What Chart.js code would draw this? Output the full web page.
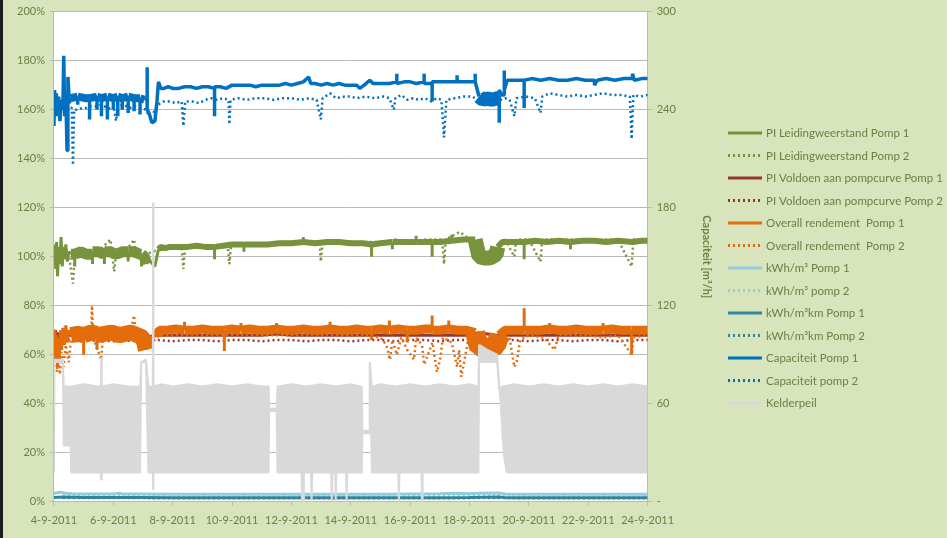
<!DOCTYPE html>
<html>
<head>
<meta charset="utf-8">
<script src="https://cdn.jsdelivr.net/npm/chart.js@4.4.1/dist/chart.umd.min.js"></script>
<style>
  html, body { margin: 0; padding: 0; background: #d8e4bc; }
  #wrap { width: 947px; height: 538px; }
</style>
</head>
<body>
<div id="wrap"><canvas id="pompChart" width="947" height="538"></canvas></div>
<script>
// x = dag in september 2011 (4 .. 24), y = waarde
const xTicks = [4, 6, 8, 10, 12, 14, 16, 18, 20, 22, 24];
const leftTicks = [0, 20, 40, 60, 80, 100, 120, 140, 160, 180, 200];   // %
const rightTicks = [0, 60, 120, 180, 240, 300];                        // m3/h

// PI Leidingweerstand (%)
const leidP1 = [[4.00,97],[4.03,105],[4.06,95],[4.09,106],[4.12,92],[4.16,104],[4.20,97],[4.24,108],[4.28,96],[4.32,104],[4.36,99],[4.40,105],[4.45,98],[4.50,102],[4.57,101],[4.70,101],[4.70,96],[4.70,101],[4.90,102],[5.10,101],[5.30,101],[5.30,97],[5.30,102],[5.50,102],[5.70,101],[5.70,97],[5.70,102],[5.90,102],[6.10,101],[6.30,102],[6.50,102],[6.50,98],[6.50,102],[6.70,102],[6.90,101],[6.95,101],[6.95,96],[6.95,101],[7.05,100],[7.12,97],[7.18,99],[7.40,96],[7.45,99],[7.52,103],[7.60,104],[7.75,103.5],[7.90,104],[8.20,104],[8.50,104],[8.80,104.5],[9.10,104],[9.41,104],[9.41,99],[9.41,104],[9.70,104.5],[10.00,105],[10.40,105],[10.40,102],[10.40,105],[10.80,105],[11.20,105],[11.60,105.5],[12.00,105.5],[12.40,106],[12.40,108],[12.40,106],[12.80,105.5],[13.20,106],[13.60,106],[14.00,105.5],[14.40,105.5],[14.70,105],[14.70,100],[14.70,105],[15.00,105.5],[15.40,106],[15.40,103],[15.40,106],[15.80,106],[16.20,106],[16.20,108.5],[16.20,106],[16.50,106],[16.74,106],[16.74,100],[16.74,106],[17.00,106],[17.40,106.5],[17.40,109],[17.40,106.5],[17.80,107],[18.19,107],[18.32,100],[18.50,99.5],[18.70,99.5],[18.90,101],[18.95,104],[19.10,106],[19.40,106],[19.84,106],[19.84,99],[19.84,106],[20.20,106.5],[20.60,106],[21.00,106.5],[21.40,106],[21.40,103],[21.40,106],[21.80,106.5],[22.20,106.5],[22.60,106],[23.00,106.5],[23.49,106],[23.80,106.5],[24.00,106.5]];

const leidP2 = [[4.30,102],[4.50,101],[4.64,89],[4.70,101],[5.00,102],[5.40,101],[5.90,107],[5.95,102],[6.03,94],[6.10,102],[6.40,102],[6.70,107],[6.75,102],[7.10,101],[7.55,103],[8.00,104],[8.30,104],[8.36,95],[8.42,104],[8.90,104],[9.40,104],[9.85,105],[9.91,97],[9.97,105],[10.50,105],[11.00,105],[11.50,106],[12.00,106],[12.50,106],[12.95,106],[12.99,98],[13.05,106],[13.50,106],[14.00,106],[14.50,106],[15.00,106],[15.50,107],[16.00,106],[16.50,107],[17.08,107],[17.14,97],[17.20,107],[17.50,109],[17.65,110],[17.80,109],[18.00,107],[18.30,102],[18.60,100],[18.90,104],[19.20,107],[19.51,100],[19.57,107],[20.00,107],[20.39,98],[20.45,107],[21.00,107],[21.50,107],[22.00,106],[22.50,107],[23.00,107],[23.46,96],[23.52,107],[24.00,107]];

// PI Voldoen aan pompcurve (%)
const voldP1 = [[4.00,68],[4.05,70],[4.10,66],[4.15,69],[4.20,67],[4.30,68],[4.60,68],[5.00,68],[5.50,68],[6.00,68],[6.50,68],[7.00,67],[7.50,68],[8.00,68],[8.50,68],[9.00,68],[9.50,68],[10.00,68],[10.50,68],[11.00,68],[11.50,68.5],[12.00,68],[12.50,68],[13.00,68],[13.50,68],[14.00,68],[14.50,68],[15.00,68],[15.50,68],[16.00,68],[16.50,68],[17.00,68],[17.50,68],[18.00,68],[18.30,69],[18.60,68.5],[18.90,68],[19.20,68],[19.50,68],[20.00,68],[20.50,68],[21.00,68],[21.50,68],[22.00,68],[22.50,68],[23.00,68],[23.50,68],[24.00,68]];

const voldP2 = [[4.30,66],[5.00,66],[6.00,65.5],[7.00,66],[7.50,66],[8.00,65.5],[8.50,66],[9.00,66],[9.50,65.5],[10.00,66],[10.50,66],[11.00,65.5],[11.50,66],[12.00,66],[12.50,65.5],[13.00,66],[13.50,66],[14.00,65.5],[14.50,66],[15.00,66],[15.50,65.5],[16.00,66],[16.50,66],[17.00,65.5],[17.50,66],[18.00,66],[18.50,65],[19.00,66],[19.50,66],[20.00,65.5],[20.50,66],[21.00,66],[21.50,65.5],[22.00,66],[22.50,66],[23.00,65.5],[23.50,66],[24.00,66]];

// Overall rendement (%)
const rendP1 = [[4.00,60],[4.03,70],[4.06,57],[4.09,68],[4.12,55],[4.15,66],[4.18,58],[4.22,70],[4.26,62],[4.30,71],[4.35,64],[4.40,72],[4.45,65],[4.50,70],[4.57,68],[4.80,68.5],[5.00,68],[5.00,60],[5.00,68],[5.25,69],[5.45,68.5],[5.45,62],[5.45,68],[5.70,68.5],[5.95,69],[6.20,68],[6.40,68.5],[6.60,69],[6.80,68],[7.00,67],[7.10,62],[7.18,66],[7.45,68],[7.55,70],[7.80,70],[8.10,70.5],[8.40,70],[8.40,73.5],[8.40,70],[8.70,70],[9.00,70.5],[9.30,70],[9.60,70],[9.74,70],[9.74,61.5],[9.74,70],[10.00,70.5],[10.30,70],[10.30,73],[10.30,70],[10.60,70.5],[10.90,70],[11.20,70],[11.50,70.5],[11.50,73],[11.50,70.5],[11.80,70],[12.10,70],[12.40,70.5],[12.70,70],[13.00,70],[13.30,70.5],[13.30,73.5],[13.30,70.5],[13.60,70],[13.90,70],[14.20,70.5],[14.50,70],[14.70,70],[14.70,66],[14.70,70],[15.00,70.5],[15.30,70],[15.30,74],[15.30,70],[15.60,70.5],[15.90,70],[15.90,65],[15.90,70],[16.20,70],[16.50,70.5],[16.74,70.5],[16.74,76],[16.74,70],[17.00,70],[17.30,70.5],[17.30,74],[17.30,70.5],[17.60,70],[17.90,70],[18.19,69],[18.32,63],[18.50,63],[18.70,62.5],[18.90,64],[19.00,68],[19.20,70],[19.50,70],[19.84,70],[19.84,79],[19.84,70],[20.10,70],[20.40,70],[20.70,70.5],[20.70,73],[20.70,70.5],[21.00,70],[21.30,70],[21.60,70.5],[21.90,70],[22.20,70],[22.50,70],[22.50,73],[22.50,70],[22.80,70.5],[23.10,70],[23.46,70],[23.46,60],[23.46,70],[23.70,70],[24.00,70]];

const rendP2 = [[4.05,62],[4.10,53],[4.14,60],[4.20,52],[4.26,61],[4.32,55],[4.40,64],[4.50,57],[4.57,66],[4.70,68],[4.90,67],[5.10,68],[5.25,66],[5.28,80],[5.32,67],[5.59,58],[5.65,67],[5.90,68],[6.10,67],[6.30,68],[6.55,68],[6.70,76],[6.76,67],[7.00,66],[7.10,62],[7.55,68],[8.00,68],[8.50,68],[9.00,68],[9.50,68],[10.00,68],[10.50,68],[11.00,68],[11.50,68],[12.00,68],[12.50,68],[13.00,68],[13.50,68],[14.00,68],[14.50,68],[15.00,67],[15.20,64],[15.32,58],[15.40,66],[15.55,60],[15.70,67],[15.90,62],[16.13,58],[16.20,67],[16.40,64],[16.47,56],[16.60,60],[16.75,65],[16.90,53],[17.01,58],[17.10,67],[17.40,65],[17.58,55],[17.65,62],[17.72,51],[17.82,57],[17.95,66],[18.10,67],[18.35,59],[18.50,62],[18.65,57],[18.85,63],[19.10,68],[19.35,67],[19.44,60],[19.51,55],[19.61,58],[19.70,66],[20.00,68],[20.50,67],[20.86,62],[21.00,68],[21.50,68],[22.00,68],[22.50,67],[23.00,68],[23.46,60],[23.52,67],[24.00,68]];

// kWh/m3 en kWh/m3km (op de %-as)
const kwhP1 = [[4.00,3.4],[4.20,3.9],[4.40,3.5],[4.60,3.3],[5.00,3.2],[6.00,3.2],[6.20,3.5],[6.30,3.2],[7.00,3.2],[8.00,3.1],[9.00,3.1],[10.00,3.1],[11.00,3.1],[12.00,3.1],[13.00,3.1],[14.00,3.1],[15.00,3.1],[16.00,3.2],[17.00,3.3],[17.50,3.5],[18.00,3.3],[18.30,3.5],[19.00,3.6],[19.20,3.2],[20.00,3.1],[21.00,3.1],[22.00,3.1],[23.00,3.1],[24.00,3.1]];
const kwhP2 = [[4.30,2.6],[5.00,2.6],[6.00,2.6],[7.00,2.6],[8.00,2.5],[9.00,2.5],[10.00,2.5],[11.00,2.5],[12.00,2.5],[13.00,2.5],[14.00,2.5],[15.00,2.5],[16.00,2.6],[17.00,2.6],[18.00,2.6],[19.00,2.7],[20.00,2.5],[21.00,2.5],[22.00,2.5],[23.00,2.5],[24.00,2.5]];
const kwhKmP1 = [[4.00,1.8],[4.30,2.0],[5.00,1.8],[6.00,1.8],[7.00,1.8],[8.00,1.7],[9.00,1.7],[10.00,1.7],[11.00,1.7],[12.00,1.7],[13.00,1.7],[14.00,1.7],[15.00,1.7],[16.00,1.7],[17.00,1.7],[18.00,1.8],[18.50,1.9],[19.00,2.0],[19.20,1.7],[20.00,1.7],[21.00,1.7],[22.00,1.7],[23.00,1.7],[24.00,1.7]];
const kwhKmP2 = [[4.30,1.5],[5.00,1.5],[6.00,1.5],[7.00,1.5],[8.00,1.4],[9.00,1.4],[10.00,1.4],[11.00,1.4],[12.00,1.4],[13.00,1.4],[14.00,1.4],[15.00,1.4],[16.00,1.4],[17.00,1.4],[18.00,1.5],[19.00,1.6],[20.00,1.4],[21.00,1.4],[22.00,1.4],[23.00,1.4],[24.00,1.4]];

// capaciteit in m3/h (rechter as)
const capP1 = [[4.00,230],[4.02,252],[4.05,238],[4.08,250],[4.12,236],[4.16,248],[4.20,233],[4.25,246],[4.30,240],[4.33,273],[4.36,236],[4.40,250],[4.44,215],[4.47,260],[4.52,244],[4.57,247],[4.80,248],[4.80,243],[4.80,248],[5.05,247],[5.20,247],[5.20,234],[5.20,247],[5.45,248],[5.45,240],[5.45,248],[5.60,247],[5.60,236],[5.60,247],[5.80,248],[5.80,234],[5.80,248],[6.00,247],[6.00,240],[6.00,247],[6.15,248],[6.15,236],[6.15,248],[6.30,247],[6.30,240],[6.30,247],[6.50,248],[6.50,238],[6.50,248],[6.70,247],[6.70,239],[6.70,247],[6.90,247],[6.90,237],[6.90,247],[7.05,246],[7.14,247],[7.14,266],[7.14,240],[7.20,238],[7.30,232],[7.40,233],[7.47,245],[7.52,257],[7.60,253],[7.70,253],[7.85,254],[8.00,253],[8.20,253],[8.40,254],[8.60,254],[8.80,253],[9.00,254],[9.20,254],[9.41,253],[9.41,236],[9.41,254],[9.60,254],[9.80,253],[10.00,255],[10.20,255],[10.40,255],[10.60,255],[10.80,254],[11.00,255],[11.20,255],[11.40,255],[11.60,255],[11.80,256],[12.00,255],[12.20,256],[12.40,257],[12.58,260],[12.65,256],[12.80,256],[13.00,255],[13.20,256],[13.40,255],[13.60,256],[13.80,255],[14.00,255],[14.20,255],[14.30,253],[14.45,255],[14.64,258],[14.75,256],[15.00,256],[15.30,256],[15.55,257],[15.55,262],[15.55,256],[15.80,257],[16.00,257],[16.20,256],[16.47,257],[16.47,262],[16.47,256],[16.74,256],[16.74,245],[16.74,257],[17.00,257],[17.30,257],[17.58,257],[17.58,261],[17.58,257],[17.90,257],[18.10,257],[18.19,257],[18.19,262],[18.19,257],[18.32,248],[18.45,246],[18.60,247],[18.75,246],[18.93,247],[19.00,247],[19.00,232],[19.00,252],[19.08,249],[19.17,249],[19.17,264],[19.17,252],[19.27,258],[19.40,258],[19.60,258],[19.84,258],[19.84,241],[19.84,258],[20.10,259],[20.40,258],[20.70,259],[21.00,258],[21.30,258],[21.60,259],[21.90,258],[22.21,258],[22.21,255],[22.30,258],[22.60,259],[22.90,258],[23.20,259],[23.49,259],[23.49,262],[23.55,258],[23.80,259],[24.00,259]];

const capP2 = [[4.30,241],[4.40,240],[4.50,242],[4.60,241],[4.64,206],[4.68,240],[4.80,240],[4.95,241],[5.10,241],[5.25,242],[5.40,242],[5.60,243],[5.80,241],[6.03,240],[6.09,233],[6.15,242],[6.35,243],[6.55,241],[6.75,242],[6.95,241],[7.10,240],[7.20,236],[7.35,238],[7.50,243],[7.70,245],[7.90,245],[8.10,244],[8.30,245],[8.36,230],[8.42,245],[8.65,245],[8.90,244],[9.10,246],[9.30,247],[9.50,246],[9.70,247],[9.88,246],[9.91,231],[9.95,246],[10.20,247],[10.50,246],[10.80,247],[11.10,247],[11.40,246],[11.70,247],[12.00,247],[12.30,246],[12.60,247],[12.85,246],[12.99,234],[13.05,247],[13.30,250],[13.50,247],[13.80,248],[14.00,248],[14.20,247],[14.50,248],[14.80,247],[15.10,248],[15.30,247],[15.45,240],[15.50,247],[15.70,249],[15.90,246],[16.10,247],[16.30,246],[16.50,247],[16.70,245],[16.90,247],[17.05,246],[17.14,223],[17.22,246],[17.50,247],[17.80,248],[18.10,248],[18.35,245],[18.60,243],[18.90,245],[19.20,247],[19.35,246],[19.51,236],[19.58,247],[19.90,248],[20.20,247],[20.39,238],[20.45,248],[20.70,250],[21.00,249],[21.30,248],[21.60,249],[21.90,248],[22.20,249],[22.50,250],[22.80,249],[23.10,249],[23.40,248],[23.46,222],[23.52,249],[23.75,248],[24.00,249]];

// kelderpeil: boven- en onderkant van de snel schommelende band (%)
const kelderMax = [[4.00,12],[4.01,58],[4.30,58],[4.33,47],[4.60,47],[5.00,48],[5.50,47],[5.58,47],[5.59,59],[5.61,47],[6.00,48],[6.50,47],[6.90,47],[6.94,57],[7.10,58],[7.18,47],[7.33,47],[7.34,122],[7.35,47],[7.60,48],[8.00,47],[8.50,48],[9.00,47],[9.50,48],[10.00,47],[10.50,48],[11.00,47],[11.23,47],[11.25,38],[11.50,38],[11.53,47],[12.00,48],[12.50,47],[13.00,48],[13.50,47],[14.00,48],[14.37,47],[14.39,29],[14.62,29],[14.64,57],[14.71,47],[15.00,48],[15.50,47],[16.00,48],[16.50,47],[17.00,48],[17.50,47],[18.00,48],[18.30,47],[18.32,64],[18.60,62],[18.93,60],[19.00,46],[19.10,47],[19.50,48],[20.00,47],[20.50,48],[21.00,47],[21.50,48],[22.00,47],[22.50,48],[23.00,47],[23.50,48],[24.00,47]];
const kelderMin = [[4.00,12],[4.01,57],[4.30,57],[4.33,23],[4.56,23],[4.58,12],[5.57,12],[5.59,9],[5.61,12],[6.90,12],[6.94,57],[7.10,57],[7.18,12],[7.33,12],[7.34,5],[7.35,12],[8.00,12],[9.00,12],[10.00,12],[11.00,12],[11.23,12],[11.25,37],[11.50,37],[11.53,12],[12.34,12],[12.36,0],[12.40,0],[12.42,12],[12.66,12],[12.68,0],[12.70,12],[13.34,12],[13.36,0],[13.38,12],[13.47,12],[13.49,0],[13.51,12],[13.84,12],[13.86,0],[13.88,12],[14.37,12],[14.39,28],[14.62,28],[14.64,56],[14.71,12],[15.60,12],[15.62,0],[15.64,12],[16.38,12],[16.40,0],[16.42,12],[18.30,12],[18.32,57],[18.93,57],[19.05,40],[19.15,20],[19.25,12],[24.00,12]];

// lijndikte per periode [van, tot, px] voor de dichte, ruisende banden
const capP1Bands = [[4.55, 7.12, 8], [18.30, 19.00, 14]];
const leidP1Bands = [[4.55, 7.12, 11], [7.50, 18.20, 6], [18.19, 18.95, 15], [18.95, 24.01, 6]];
const rendP1Bands = [[4.55, 7.12, 16], [7.40, 18.20, 9], [18.19, 19.00, 20], [19.00, 24.01, 9]];

const textColor = '#6b8143';
const gridColor = '#bababa';
const dotted = [2, 3];

Chart.defaults.font.family = 'Lato, "Open Sans", sans-serif';
Chart.defaults.font.size = 11;
Chart.defaults.color = textColor;

function bandWidth(bands, base) {
    return ctx => {
        const x0 = ctx.p0.parsed.x, x1 = ctx.p1.parsed.x;
        if (x1 - x0 < 0.005) return base;   // verticale piek blijft dun
        const band = bands.find(b => x0 >= b[0] && x1 <= b[1]);
        return band ? band[2] : base;
    };
}

const datasets = [
    { label: 'PI Leidingweerstand Pomp 1', data: leidP1, borderColor: '#77933c', borderWidth: 3, segment: { borderWidth: bandWidth(leidP1Bands, 3) } },
    { label: 'PI Leidingweerstand Pomp 2', data: leidP2, borderColor: '#77933c', borderWidth: 2.5, borderDash: dotted },
    { label: 'PI Voldoen aan pompcurve Pomp 1', data: voldP1, borderColor: '#953735', borderWidth: 3 },
    { label: 'PI Voldoen aan pompcurve Pomp 2', data: voldP2, borderColor: '#953735', borderWidth: 2.5, borderDash: dotted },
    { label: 'Overall rendement  Pomp 1', data: rendP1, borderColor: '#e46c0a', borderWidth: 3, segment: { borderWidth: bandWidth(rendP1Bands, 3) } },
    { label: 'Overall rendement  Pomp 2', data: rendP2, borderColor: '#e46c0a', borderWidth: 2.5, borderDash: dotted },
    { label: 'kWh/m³ Pomp 1', data: kwhP1, borderColor: '#93cddd', borderWidth: 3 },
    { label: 'kWh/m³ pomp 2', data: kwhP2, borderColor: '#93cddd', borderWidth: 2.5, borderDash: dotted },
    { label: 'kWh/m³km Pomp 1', data: kwhKmP1, borderColor: '#31859c', borderWidth: 3 },
    { label: 'kWh/m³km Pomp 2', data: kwhKmP2, borderColor: '#31859c', borderWidth: 2.5, borderDash: dotted },
    { label: 'Capaciteit Pomp 1', data: capP1, borderColor: '#0070c0', borderWidth: 3.5, yAxisID: 'y1', segment: { borderWidth: bandWidth(capP1Bands, 3.5) } },
    { label: 'Capaciteit pomp 2', data: capP2, borderColor: '#0070c0', borderWidth: 2.5, borderDash: dotted, yAxisID: 'y1' },
    { label: 'Kelderpeil', data: kelderMax, borderColor: '#d9d9d9', backgroundColor: '#d9d9d9', borderWidth: 2, fill: '+1' },
    { label: '', data: kelderMin, borderColor: '#d9d9d9', borderWidth: 2 }
];
// zoals in Excel: latere reeksen liggen bovenop
datasets.forEach((ds, i) => {
    ds.order = 20 - i;
    ds.pointRadius = 0;
    ds.tension = 0;
    ds.borderJoinStyle = 'bevel';
    if (!ds.fill) ds.fill = false;
});

const plotBackground = {
    id: 'plotBackground',
    beforeDraw(chart) {
        const { ctx, chartArea } = chart;
        ctx.save();
        ctx.fillStyle = '#1c1c1c';
        ctx.fillRect(0, 0, 3, chart.height);
        ctx.fillStyle = '#ffffff';
        ctx.fillRect(chartArea.left, chartArea.top, chartArea.right - chartArea.left, chartArea.bottom - chartArea.top);
        ctx.restore();
    }
};

// legenda rechts, één regel per reeks, zoals het Excel-origineel
const sideLegend = {
    id: 'sideLegend',
    afterDraw(chart) {
        const ctx = chart.ctx;
        let y = 133;
        chart.data.datasets.forEach(ds => {
            if (!ds.label) return;
            ctx.save();
            ctx.strokeStyle = ds.borderColor;
            ctx.lineWidth = 3;
            ctx.setLineDash(ds.borderDash || []);
            ctx.beginPath();
            ctx.moveTo(728, y);
            ctx.lineTo(762, y);
            ctx.stroke();
            ctx.setLineDash([]);
            ctx.fillStyle = textColor;
            ctx.font = '11.5px Lato, "Open Sans", sans-serif';
            ctx.textBaseline = 'middle';
            ctx.fillText(ds.label, 766, y + 0.5);
            ctx.restore();
            y += 22.5;
        });
    }
};

const ctx = document.getElementById('pompChart').getContext('2d');
new Chart(ctx, {
    type: 'line',
    data: { datasets: datasets },
    plugins: [plotBackground, sideLegend],
    options: {
        responsive: false,
        devicePixelRatio: 1,
        animation: false,
        layout: { padding: { left: 12, top: 10, right: 228, bottom: 3 } },
        scales: {
            x: {
                type: 'linear',
                min: xTicks[0],
                max: xTicks[xTicks.length - 1],
                afterBuildTicks: axis => { axis.ticks = xTicks.map(v => ({ value: v })); },
                ticks: { callback: v => v + '-9-2011', maxRotation: 0, autoSkip: false, padding: 8 },
                grid: { drawOnChartArea: false, tickLength: 4, color: gridColor },
                border: { color: gridColor }
            },
            y: {
                position: 'left',
                min: 0,
                max: 200,
                afterBuildTicks: axis => { axis.ticks = leftTicks.map(v => ({ value: v })); },
                ticks: { callback: v => v + '%', padding: 5 },
                grid: { color: gridColor, tickLength: 4 },
                border: { color: gridColor }
            },
            y1: {
                position: 'right',
                min: 0,
                max: 300,
                afterBuildTicks: axis => { axis.ticks = rightTicks.map(v => ({ value: v })); },
                ticks: { callback: v => v === 0 ? '-' : v, padding: 4 },
                grid: { drawOnChartArea: false, tickLength: 5, color: gridColor },
                border: { color: gridColor },
                title: { display: true, text: 'Capaciteit [m³/h]', font: { weight: 'bold', size: 11 }, color: textColor, padding: { top: 6, bottom: 20 } }
            }
        },
        plugins: {
            tooltip: { enabled: false },
            legend: { display: false }
        }
    }
});
</script>
</body>
</html>
